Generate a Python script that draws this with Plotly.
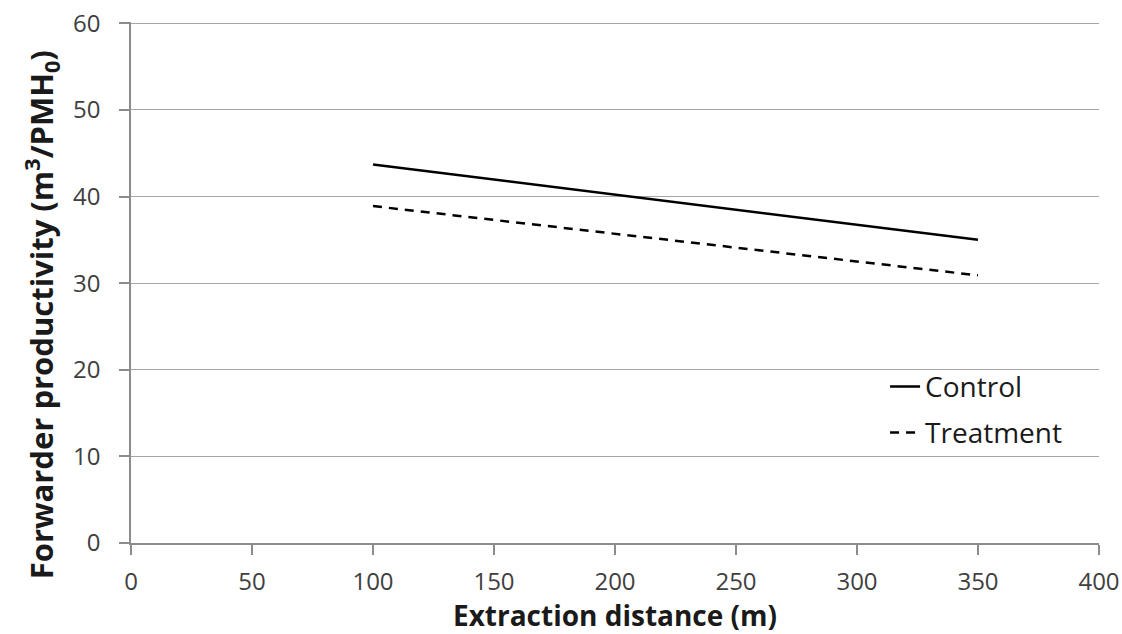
import plotly.graph_objects as go

distance = [100, 350]
control = [43.7, 35.0]
treatment = [38.9, 30.9]
x_ticks = [0, 50, 100, 150, 200, 250, 300, 350, 400]
y_ticks = [0, 10, 20, 30, 40, 50, 60]

FONT = "Open Sans"
fig = go.Figure()
fig.add_trace(go.Scatter(x=distance, y=control, mode="lines", name="Control",
                         line=dict(color="black", width=2.5), legend="legend",
                         showlegend=True))
fig.add_trace(go.Scatter(x=distance, y=treatment, mode="lines", name="Treatment",
                         line=dict(color="black", width=2.5, dash="9px,7px"),
                         legend="legend2", showlegend=True))

leg_common = dict(xanchor="left", yanchor="middle", bgcolor="rgba(0,0,0,0)",
                  font=dict(family=FONT, size=28, color="#1a1a1a"))

fig.update_layout(
    width=1122, height=634,
    showlegend=True,
    margin=dict(l=131, r=23, t=22, b=91),
    paper_bgcolor="white", plot_bgcolor="white",
    font=dict(family=FONT, color="#404040", size=24),
    legend=dict(x=0.779, y=0.30, **leg_common),
    legend2=dict(x=0.779, y=0.2115, **leg_common),
    xaxis=dict(range=[0, 400], tickvals=x_ticks, showgrid=False,
               showline=True, linecolor="#8c8c8c", linewidth=1.5,
               ticks="outside", tickcolor="#8c8c8c", ticklen=10, tickwidth=1.5,
               ticklabelstandoff=6, ticklabeloverflow="allow",
               automargin="bottom+height",
               zeroline=False,
               tickfont=dict(size=24, color="#404040"),
               title=dict(text="<b>Extraction distance (m)</b>",
                          font=dict(size=28, color="#1a1a1a"), standoff=3)),
    yaxis=dict(range=[0, 60.15], tickvals=y_ticks, showgrid=True,
               gridcolor="#a6a6a6", gridwidth=1.2,
               showline=True, linecolor="#8c8c8c", linewidth=1.5,
               ticks="outside", tickcolor="#8c8c8c", ticklen=10, tickwidth=1.5,
               ticklabelstandoff=14, ticklabeloverflow="allow",
               automargin="left+width",
               zeroline=False,
               tickfont=dict(size=24, color="#404040"),
               title=dict(text="<b>Forwarder productivity (m<sup>3</sup>/PMH<sub>0</sub>)</b>"
                               + "&nbsp;" * 8,
                          font=dict(size=31, color="#1a1a1a"), standoff=10)),
)
fig.write_html("out.html",
               config={"displayModeBar": False},
               post_script="document.body.style.margin='0';document.body.style.overflow='hidden';")
